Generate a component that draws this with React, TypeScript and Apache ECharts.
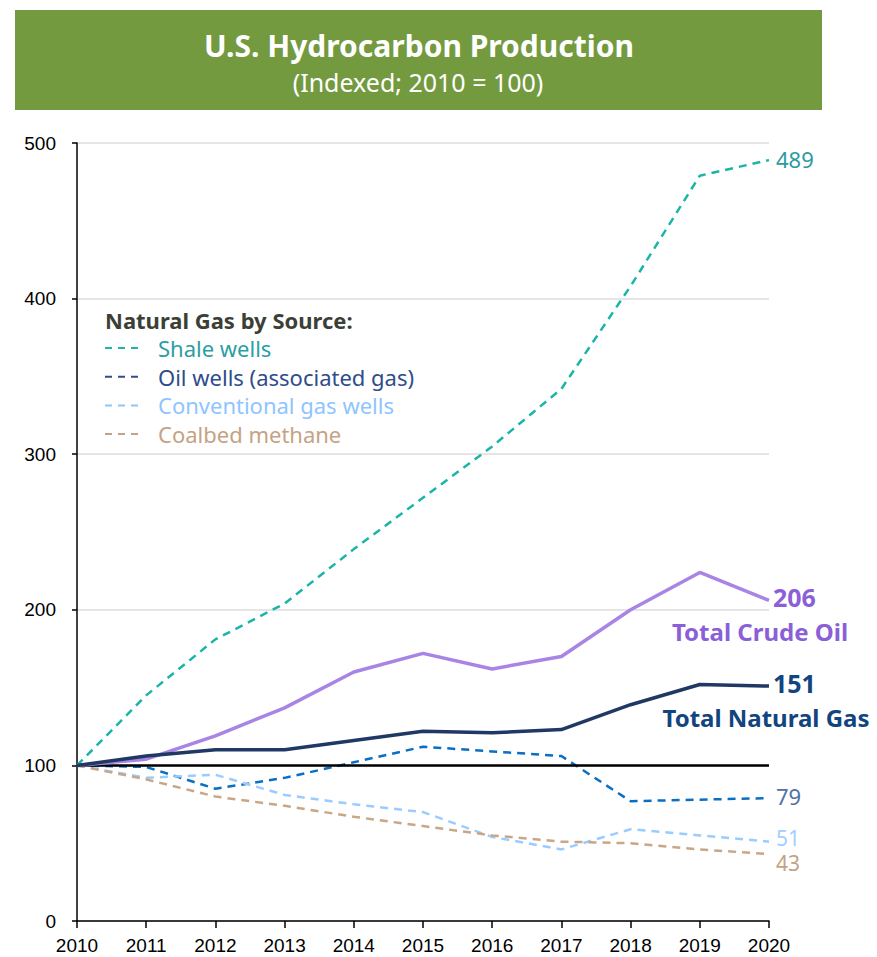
import React, { useEffect, useRef } from "react";
import * as echarts from "echarts";

const years = ["2010", "2011", "2012", "2013", "2014", "2015", "2016", "2017", "2018", "2019", "2020"];
const shaleWells = [100, 145, 181, 204, 239, 272, 305, 342, 408, 479, 489];
const oilWells = [100, 99, 85, 92, 102, 112, 109, 106, 77, 78, 79];
const conventionalWells = [100, 92, 94, 81, 75, 70, 54, 46, 59, 55, 51];
const coalbedMethane = [100, 91, 80, 74, 67, 61, 55, 51, 50, 46, 43];
const totalCrudeOil = [100, 104, 119, 137, 160, 172, 162, 170, 200, 224, 206];
const totalNaturalGas = [100, 106, 110, 110, 116, 122, 121, 123, 139, 152, 151];
const yTicks = [0, 100, 200, 300, 400, 500];

const FONT = "'Noto Sans', 'Open Sans', sans-serif";
const AXISFONT = "'Liberation Sans', Arial, sans-serif";

const legendItems = [
  { name: "Shale wells", dash: "#1fb5a8", text: "#2b9ea3" },
  { name: "Oil wells (associated gas)", dash: "#2e4d8a", text: "#2e4d8a" },
  { name: "Conventional gas wells", dash: "#8ec5ff", text: "#8ec5ff" },
  { name: "Coalbed methane", dash: "#c4a384", text: "#c4a384" },
];

function endLabel(color: string, fontSize: number, bold: boolean, offset: number[] = [0, 0]) {
  return {
    show: true,
    distance: 7,
    offset,
    formatter: (p: any) => String(Array.isArray(p.value) ? p.value[1] : p.value),
    color,
    fontSize,
    lineHeight: fontSize,
    fontWeight: bold ? "bold" : "normal",
    fontFamily: FONT,
  };
}

export default function App() {
  const ref = useRef<HTMLDivElement>(null);
  useEffect(() => {
    if (!ref.current) return;
    const chart = echarts.init(ref.current, undefined, { renderer: "svg" });
    const dashed = (name: string, data: number[], color: string, label: any, extra: any = {}) => ({
      name,
      type: "line",
      data,
      symbol: "none",
      lineStyle: { color, width: 2.5, type: [8, 6] },
      endLabel: label,
      z: 2,
      ...extra,
    });
    const graphics: any[] = [
      { type: "rect", shape: { x: 15, y: 10, width: 807, height: 100 }, style: { fill: "#739a3e" }, z: 0 },
      {
        type: "text",
        x: 419,
        y: 45,
        style: {
          text: "U.S. Hydrocarbon Production",
          fill: "#ffffff",
          font: `bold 30px ${FONT}`,
          align: "center",
          verticalAlign: "middle",
        },
      },
      {
        type: "text",
        x: 418,
        y: 82,
        style: {
          text: "(Indexed; 2010 = 100)",
          fill: "#ffffff",
          font: `25px ${FONT}`,
          align: "center",
          verticalAlign: "middle",
        },
      },
      {
        type: "text",
        x: 105,
        y: 320,
        style: {
          text: "Natural Gas by Source:",
          fill: "#3c3f36",
          font: `bold 22px ${FONT}`,
          align: "left",
          verticalAlign: "middle",
        },
      },
    ];
    legendItems.forEach((it, i) => {
      const y = 348 + i * 28.7;
      graphics.push({
        type: "line",
        shape: { x1: 105, y1: y, x2: 142, y2: y },
        style: { stroke: it.dash, lineWidth: 2, lineDash: [7, 6] },
      });
      graphics.push({
        type: "text",
        x: 158,
        y,
        style: {
          text: it.name,
          fill: it.text,
          font: `22px ${FONT}`,
          align: "left",
          verticalAlign: "middle",
        },
      });
    });

    chart.setOption({
      animation: false,
      grid: { left: 77, right: 108, top: 143, bottom: 36, containLabel: false },
      xAxis: {
        type: "category",
        data: years,
        boundaryGap: false,
        axisLine: { lineStyle: { color: "#000", width: 1.5 } },
        axisTick: { show: true, length: 7, lineStyle: { color: "#000", width: 1.5 } },
        axisLabel: { color: "#000", fontSize: 19, fontFamily: AXISFONT, margin: 15, interval: 0 },
        splitLine: { show: false },
      },
      yAxis: {
        type: "value",
        min: yTicks[0],
        max: yTicks[yTicks.length - 1],
        interval: 100,
        axisLine: { show: true, lineStyle: { color: "#000", width: 1.5 } },
        axisTick: { show: true, length: 5, lineStyle: { color: "#000", width: 1.5 } },
        axisLabel: { color: "#000", fontSize: 19, fontFamily: AXISFONT, margin: 21 },
        splitLine: { show: true, lineStyle: { color: "#dcdcdc", width: 1.5 } },
      },
      graphic: graphics,
      series: [
        dashed("Shale wells", shaleWells, "#1ab5a8", endLabel("#2e9aa0", 22, false, [0, -1])),
        dashed("Oil wells (associated gas)", oilWells, "#0a6fc2", endLabel("#5170a8", 22, false, [0, -2]), {
          markLine: {
            silent: true,
            symbol: "none",
            label: { show: false },
            lineStyle: { color: "#000", width: 2.5, type: "solid" },
            data: [{ yAxis: 100 }],
            z: 3,
          },
        }),
        dashed("Conventional gas wells", conventionalWells, "#99ccff", endLabel("#9fd0ff", 21, false, [0, -4])),
        dashed("Coalbed methane", coalbedMethane, "#c9a686", endLabel("#c4a384", 21, false, [0, 9])),
        {
          name: "Total Crude Oil",
          type: "line",
          data: totalCrudeOil,
          symbol: "none",
          lineStyle: { color: "#a884e4", width: 3.5 },
          endLabel: endLabel("#8b5fd8", 25, true, [-3, -3]),
          z: 4,
          markPoint: {
            symbol: "circle",
            symbolSize: 0,
            data: [{ coord: ["2020", totalCrudeOil[totalCrudeOil.length - 1]] }],
            label: {
              show: true,
              formatter: "Total Crude Oil",
              offset: [-9, 31],
              color: "#8b5fd8",
              fontSize: 24,
              lineHeight: 24,
              fontWeight: "bold",
              fontFamily: FONT,
            },
          },
        },
        {
          name: "Total Natural Gas",
          type: "line",
          data: totalNaturalGas,
          symbol: "none",
          lineStyle: { color: "#1f3864", width: 3.5 },
          endLabel: endLabel("#12457f", 25, true, [-3, -3]),
          z: 5,
          markPoint: {
            symbol: "circle",
            symbolSize: 0,
            data: [{ coord: ["2020", totalNaturalGas[totalNaturalGas.length - 1]] }],
            label: {
              show: true,
              formatter: "Total Natural Gas",
              offset: [-3, 31],
              color: "#12457f",
              fontSize: 24,
              lineHeight: 24,
              fontWeight: "bold",
              fontFamily: FONT,
            },
          },
        },
      ],
    });
    return () => chart.dispose();
  }, []);
  return (
    <div
      ref={ref}
      style={{ position: "fixed", left: 0, top: 0, width: 877, height: 957, background: "#fff" }}
    />
  );
}
